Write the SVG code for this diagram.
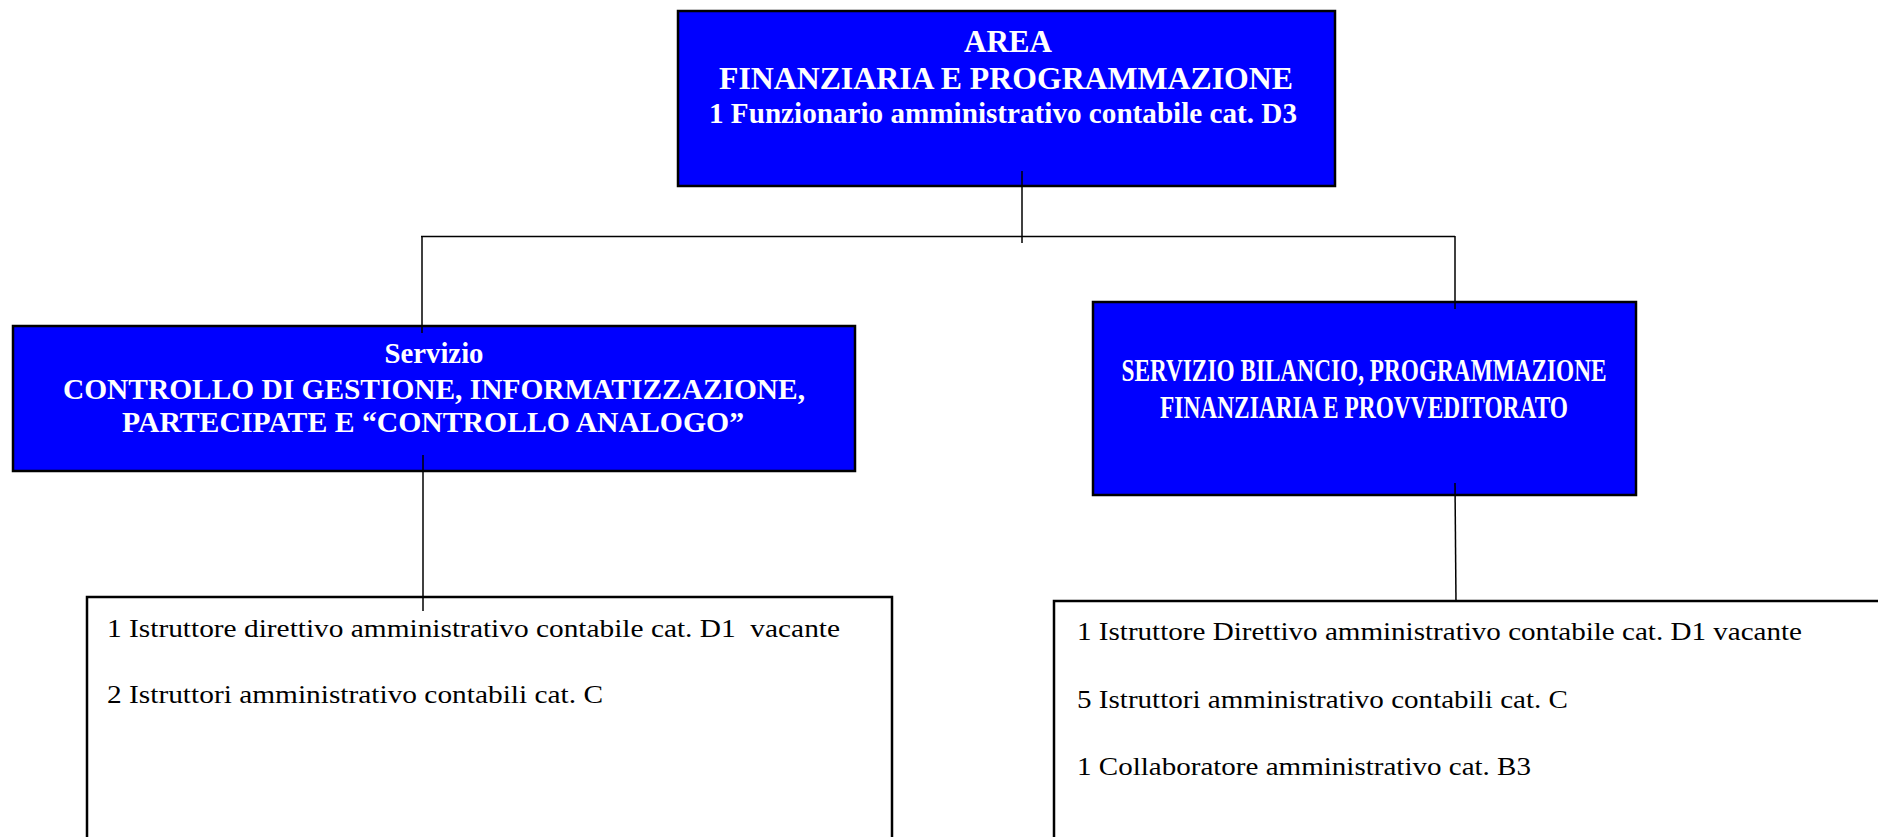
<svg xmlns="http://www.w3.org/2000/svg" width="1878" height="837" viewBox="0 0 1878 837">
<style>
.blue{fill:#0000ff;stroke:#000;stroke-width:2.5}
.white{fill:#fff;stroke:#000;stroke-width:2.5}
.h{font-family:"Liberation Serif","Times New Roman",serif;font-weight:bold;font-size:30px;fill:#fff;text-anchor:middle}
.t{font-family:"Liberation Serif","Times New Roman",serif;font-size:25px;fill:#000}
.c{stroke:#000;stroke-width:1.5;fill:none}
</style>
<rect width="1878" height="837" fill="#fff"/>
<g id="area">
<rect class="blue" x="678" y="11" width="657" height="175"/>
<text class="h" x="1008" y="52" style="font-size:31.7px" textLength="88" lengthAdjust="spacingAndGlyphs">AREA</text>
<text class="h" x="1006" y="89" style="font-size:31.7px" textLength="574" lengthAdjust="spacingAndGlyphs">FINANZIARIA E PROGRAMMAZIONE</text>
<text class="h" x="1003" y="123" style="font-size:29.2px" textLength="588" lengthAdjust="spacingAndGlyphs">1 Funzionario amministrativo contabile cat. D3</text>
</g>
<g id="servizio-controllo">
<rect class="blue" x="13" y="326" width="842" height="145"/>
<text class="h" x="434" y="363" style="font-size:28.5px" textLength="99" lengthAdjust="spacingAndGlyphs">Servizio</text>
<text class="h" x="434" y="399" textLength="742" lengthAdjust="spacingAndGlyphs">CONTROLLO DI GESTIONE, INFORMATIZZAZIONE,</text>
<text class="h" x="433" y="432" textLength="622" lengthAdjust="spacingAndGlyphs">PARTECIPATE E “CONTROLLO ANALOGO”</text>
</g>
<g id="servizio-bilancio">
<rect class="blue" x="1093" y="302" width="543" height="193"/>
<text class="h" x="1364" y="381" style="font-size:31px" textLength="485" lengthAdjust="spacingAndGlyphs">SERVIZIO BILANCIO, PROGRAMMAZIONE</text>
<text class="h" x="1364" y="418" style="font-size:31px" textLength="408" lengthAdjust="spacingAndGlyphs">FINANZIARIA E PROVVEDITORATO</text>
</g>
<g id="personale-controllo">
<rect class="white" x="87" y="597" width="805" height="260"/>
<text class="t" x="107" y="637" textLength="733" lengthAdjust="spacingAndGlyphs" xml:space="preserve">1 Istruttore direttivo amministrativo contabile cat. D1  vacante</text>
<text class="t" x="107" y="703" textLength="496" lengthAdjust="spacingAndGlyphs">2 Istruttori amministrativo contabili cat. C</text>
</g>
<g id="personale-bilancio">
<rect class="white" x="1054" y="601" width="840" height="260"/>
<text class="t" x="1077" y="640" textLength="725" lengthAdjust="spacingAndGlyphs">1 Istruttore Direttivo amministrativo contabile cat. D1 vacante</text>
<text class="t" x="1077" y="708" textLength="491" lengthAdjust="spacingAndGlyphs">5 Istruttori amministrativo contabili cat. C</text>
<text class="t" x="1077" y="775" textLength="454" lengthAdjust="spacingAndGlyphs">1 Collaboratore amministrativo cat. B3</text>
</g>
<g id="connectors">
<line class="c" x1="1022" y1="171" x2="1022" y2="243"/>
<line class="c" x1="421" y1="236.5" x2="1455" y2="236.5" stroke-width="2"/>
<line class="c" x1="422" y1="236" x2="422" y2="333"/>
<line class="c" x1="1455" y1="236" x2="1455" y2="309"/>
<line class="c" x1="423" y1="455" x2="423" y2="611"/>
<line class="c" x1="1455" y1="483" x2="1456" y2="602"/>
</g>
</svg>
